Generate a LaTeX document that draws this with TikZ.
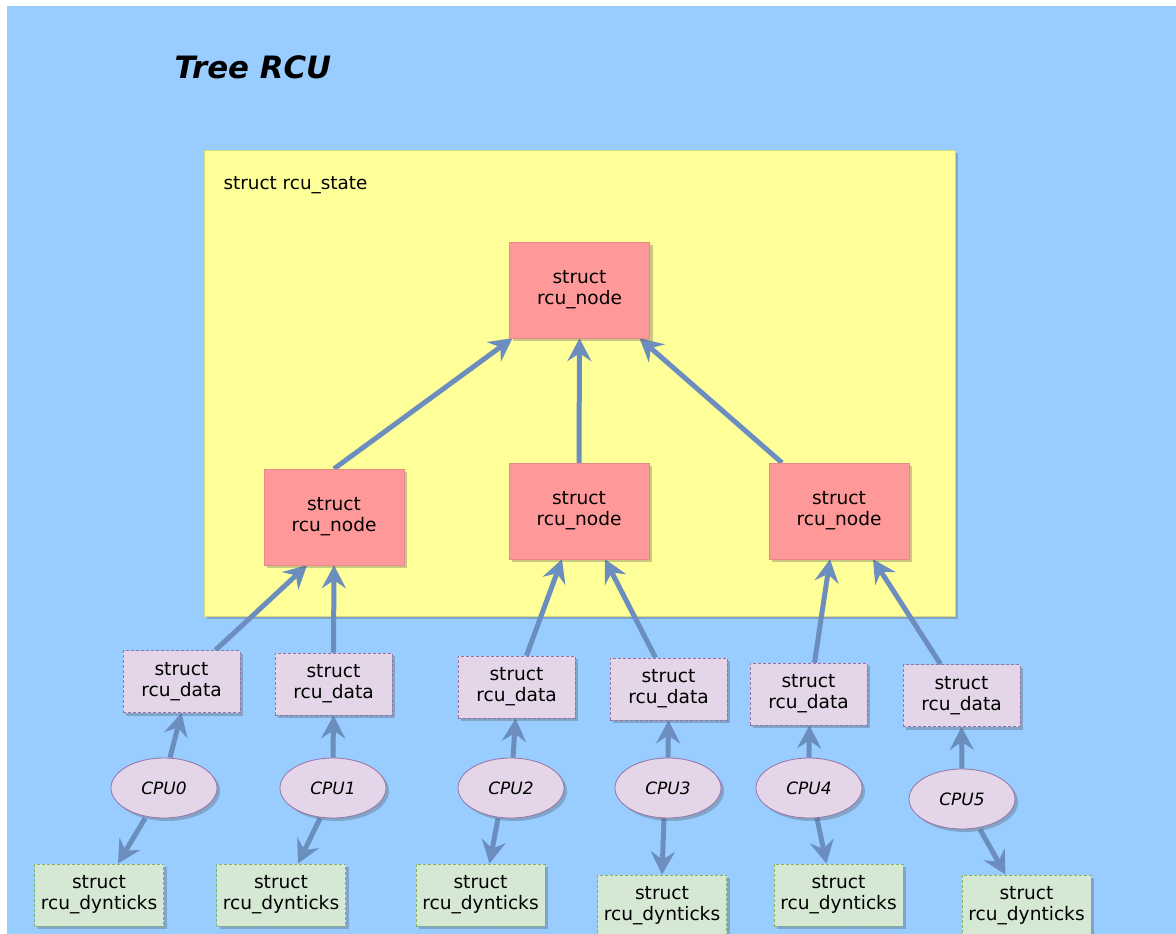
\documentclass[tikz,border=0pt]{standalone}
\usepackage{fontspec}
\setmainfont{DejaVu Sans}
\usetikzlibrary{arrows.meta,shapes.geometric,shadows,backgrounds}
\definecolor{bgblue}{HTML}{99CCFF}
\definecolor{statey}{HTML}{FFFF99}
\definecolor{nodered}{HTML}{FF9999}
\definecolor{datafill}{HTML}{E4D6E8}
\definecolor{dataline}{HTML}{9673A6}
\definecolor{dynfill}{HTML}{D5E8D4}
\definecolor{dynline}{HTML}{82B366}
\definecolor{arrowc}{HTML}{6C8EBF}
\pgfdeclarelayer{links}
\pgfsetlayers{background,links,main}
\tikzset{
  shade3/.style={drop shadow={shadow xshift=3pt,shadow yshift=-3pt,opacity=0.3,fill=black!70}},
  txt/.style={font=\fontsize{18.6pt}{21pt}\selectfont,align=center,text=black},
  rnode/.style={txt,shade3,fill=nodered,draw=nodered!90!black,line width=0.4pt,minimum width=140pt,minimum height=96pt,inner sep=0pt},
  rdata/.style={txt,shade3,fill=datafill,draw=dataline,dash pattern=on 3pt off 2pt,line width=0.8pt,minimum width=117pt,minimum height=62pt,inner sep=0pt},
  rdyn/.style={txt,shade3,fill=dynfill,draw=dynline,dash pattern=on 3pt off 2pt,line width=0.8pt,minimum width=129pt,minimum height=62pt,inner sep=0pt},
  cpu/.style={ellipse,shade3,fill=datafill,draw=dataline,line width=0.8pt,minimum width=106pt,minimum height=60pt,inner sep=0pt,font=\fontsize{17pt}{21pt}\selectfont\itshape},
  link/.style={draw=arrowc,line width=5pt,-{Stealth[length=23pt,width=24pt,inset=8pt]}},
}
\begin{document}
\begin{tikzpicture}[x=1pt,y=-1pt]
\useasboundingbox (0,0) rectangle (1176,934);

\begin{pgfonlayer}{background}
\fill[white] (0,0) rectangle (1176,934);
\fill[bgblue] (7,6) rectangle (1176,934);
% outer state container
\node[shade3,fill=statey,draw=statey!85!black,line width=0.4pt,minimum width=751pt,minimum height=466pt,inner sep=0pt] (state) at (579.5,383) {};
\end{pgfonlayer}

\node[anchor=west,font=\fontsize{30.8pt}{36pt}\selectfont\bfseries\itshape] (title) at (171,67) {Tree RCU};
\node[anchor=west,font=\fontsize{18.4pt}{21pt}\selectfont] (statelbl) at (220,185) {struct rcu\_state};

% rcu_node hierarchy
\node[rnode] (top) at (579.5,290) {struct\\rcu\_node};
\node[rnode] (nL) at (334,517) {struct\\rcu\_node};
\node[rnode] (nC) at (579,511) {struct\\rcu\_node};
\node[rnode] (nR) at (839,511) {struct\\rcu\_node};

% per-CPU data
\node[rdata] (d0) at (181.5,681.5) {struct\\rcu\_data};
\node[rdata] (d1) at (333.5,684) {struct\\rcu\_data};
\node[rdata] (d2) at (516.5,687) {struct\\rcu\_data};
\node[rdata] (d3) at (668.5,689) {struct\\rcu\_data};
\node[rdata] (d4) at (808.5,694) {struct\\rcu\_data};
\node[rdata] (d5) at (961.5,695.5) {struct\\rcu\_data};

% CPUs
\node[cpu] (c0) at (164,788) {CPU0};
\node[cpu] (c1) at (333,788) {CPU1};
\node[cpu] (c2) at (511,788) {CPU2};
\node[cpu] (c3) at (668,788) {CPU3};
\node[cpu] (c4) at (809,788) {CPU4};
\node[cpu] (c5) at (962,799) {CPU5};

% dynticks
\node[rdyn] (y0) at (99,895) {struct\\rcu\_dynticks};
\node[rdyn] (y1) at (281,895) {struct\\rcu\_dynticks};
\node[rdyn] (y2) at (480.5,895) {struct\\rcu\_dynticks};
\node[rdyn] (y3) at (662,906) {struct\\rcu\_dynticks};
\node[rdyn] (y4) at (838.5,895) {struct\\rcu\_dynticks};
\node[rdyn] (y5) at (1026.5,906) {struct\\rcu\_dynticks};

\begin{pgfonlayer}{links}
\path[link] (nL.north) -- ([xshift=-67pt]top.south);
\path[link] (nC.north) -- (top.south);
\path[link] ([xshift=-57pt]nR.north) -- ([xshift=60pt]top.south);

\path[link] ([xshift=34pt]d0.north) -- ([xshift=-27pt]nL.south);
\path[link] (d1.north) -- (nL.south);
\path[link] ([xshift=10pt]d2.north) -- ([xshift=-17pt]nC.south);
\path[link] ([xshift=-13pt]d3.north) -- ([xshift=26pt]nC.south);
\path[link] ([xshift=6pt]d4.north) -- ([xshift=-9pt]nR.south);
\path[link] ([xshift=-21pt]d5.north) -- ([xshift=34pt]nR.south);

\path[link] ([xshift=6pt]c0.north) -- (d0.south);
\path[link] (c1.north) -- (d1.south);
\path[link] ([xshift=2pt]c2.north) -- ([xshift=-1pt]d2.south);
\path[link] (c3.north) -- (d3.south);
\path[link] (c4.north) -- ([xshift=1pt]d4.south);
\path[link] (c5.north) -- (d5.south);

\path[link] ([xshift=-19pt]c0.south) -- ([xshift=19pt]y0.north);
\path[link] ([xshift=-13pt]c1.south) -- ([xshift=17pt]y1.north);
\path[link] ([xshift=-13pt]c2.south) -- ([xshift=9pt]y2.north);
\path[link] ([xshift=-4pt]c3.south) -- (y3.north);
\path[link] ([xshift=8pt]c4.south) -- ([xshift=-12pt]y4.north);
\path[link] ([xshift=18pt]c5.south) -- ([xshift=-21pt]y5.north);
\end{pgfonlayer}
\end{tikzpicture}
\end{document}
